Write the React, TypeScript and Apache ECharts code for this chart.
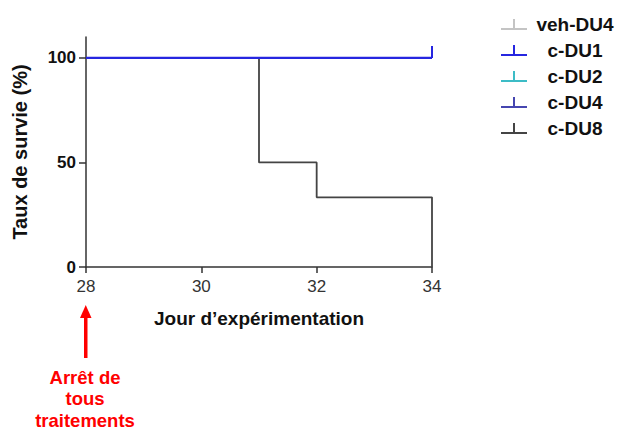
import React, { useEffect, useRef } from "react";
import * as echarts from "echarts";

const days = [28, 31, 32, 34];
const seriesNames = ["veh-DU4", "c-DU1", "c-DU2", "c-DU4", "c-DU8"];
const seriesColors = ["#c4c4c4", "#2626e0", "#3cbcc6", "#4646b0", "#444444"];
const survVehDU4 = [100, null, null, 100];
const survCDU1 = [100, null, null, 100];
const survCDU2 = [100, null, null, 100];
const survCDU4 = [100, null, null, 100];
const survCDU8 = [100, 50, 33.3, 0];
const censoredAtEnd = [true, true, true, true, false];
const xTicks = [28, 30, 32, 34];
const yTicks = [0, 50, 100];
const annotationLines = ["Arrêt de", "tous", "traitements"];

const allSurv = [survVehDU4, survCDU1, survCDU2, survCDU4, survCDU8];

function buildData(vals: (number | null)[], censored: boolean) {
  const out: any[] = [];
  vals.forEach((v, i) => {
    if (v === null) return;
    const last = i === vals.length - 1;
    if (last && censored) {
      out.push({
        value: [days[i], v],
        symbol: "rect",
        symbolSize: [2, 12],
        symbolOffset: [0, -6],
      });
    } else {
      out.push({ value: [days[i], v], symbol: "none" });
    }
  });
  return out;
}

const ICON = "path://M0,10H26V12H0Z M12,1H14V10H12Z";
const FONT = "Liberation Sans, Arial, sans-serif";

export default function App() {
  const ref = useRef<HTMLDivElement>(null);
  useEffect(() => {
    if (!ref.current) return;
    const chart = echarts.init(ref.current, null, { renderer: "svg" });
    const drawOrder = [0, 2, 3, 4, 1];
    const series = drawOrder.map((k) => ({
      name: seriesNames[k],
      type: "line",
      step: "end",
      symbol: "none",
      showSymbol: true,
      data: buildData(allSurv[k], censoredAtEnd[k]),
      color: seriesColors[k],
      itemStyle: { color: seriesColors[k] },
      lineStyle: { color: seriesColors[k], width: k === 1 ? 2.2 : 1.8 },
      z: 2 + drawOrder.indexOf(k),
    }));
    const annotationTexts = annotationLines.map((t, i) => ({
      type: "text",
      x: 85,
      y: 377 + i * 21.5,
      style: {
        text: t,
        fill: "#ff0000",
        fontSize: 18.5,
        fontWeight: "bold",
        lineHeight: 15,
        align: "center",
        verticalAlign: "middle",
        fontFamily: FONT,
      },
    }));
    chart.setOption({
      animation: false,
      backgroundColor: "#ffffff",
      textStyle: { fontFamily: FONT },
      grid: { left: 86, right: 186, top: 37, bottom: 163, containLabel: false },
      legend: {
        orient: "vertical",
        left: 496,
        top: 10,
        itemWidth: 26,
        itemHeight: 12,
        itemGap: 7,
        data: seriesNames.map((n) => ({ name: n, icon: ICON })),
        formatter: (n: string) => "{c|" + n + "}",
        textStyle: {
          rich: {
            c: {
              width: 86,
              align: "center",
              fontSize: 19,
              fontWeight: "bold",
              color: "#111",
              fontFamily: FONT,
              lineHeight: 18,
            },
          },
        },
      },
      xAxis: {
        type: "value",
        min: 28,
        max: 34,
        interval: 2,
        name: "Jour d\u2019expérimentation",
        nameLocation: "middle",
        nameGap: 42,
        nameTextStyle: { fontSize: 19, fontWeight: "bold", color: "#111", fontFamily: FONT },
        axisLine: { show: true, lineStyle: { color: "#333", width: 1.5 } },
        axisTick: { show: true, length: 6, lineStyle: { color: "#333", width: 1.5 } },
        axisLabel: {
          margin: 11,
          fontSize: 17,
          color: "#333",
          fontFamily: FONT,
          customValues: xTicks,
        },
        splitLine: { show: false },
      },
      yAxis: {
        type: "value",
        min: 0,
        max: 110,
        interval: 50,
        name: "Taux de survie (%)",
        nameLocation: "middle",
        nameGap: 56,
        nameTextStyle: { fontSize: 20, fontWeight: "bold", color: "#111", fontFamily: FONT },
        axisLine: { show: true, lineStyle: { color: "#333", width: 1.5 } },
        axisTick: {
          show: true,
          length: 7,
          lineStyle: { color: "#333", width: 1.5 },
          customValues: yTicks,
        },
        axisLabel: {
          margin: 10,
          fontSize: 17,
          fontWeight: "bold",
          color: "#111",
          fontFamily: FONT,
          customValues: yTicks,
        },
        splitLine: { show: false },
      },
      graphic: [
        {
          type: "rect",
          shape: { x: 84, y: 315, width: 3.5, height: 43 },
          style: { fill: "#ff0000" },
        },
        {
          type: "polygon",
          shape: { points: [[80, 318], [91.5, 318], [85.75, 305]] },
          style: { fill: "#ff0000" },
        },
        ...annotationTexts,
      ],
      series,
    });
    return () => chart.dispose();
  }, []);
  return (
    <div
      ref={ref}
      style={{ position: "fixed", left: 0, top: 0, width: 618, height: 430 }}
    />
  );
}
